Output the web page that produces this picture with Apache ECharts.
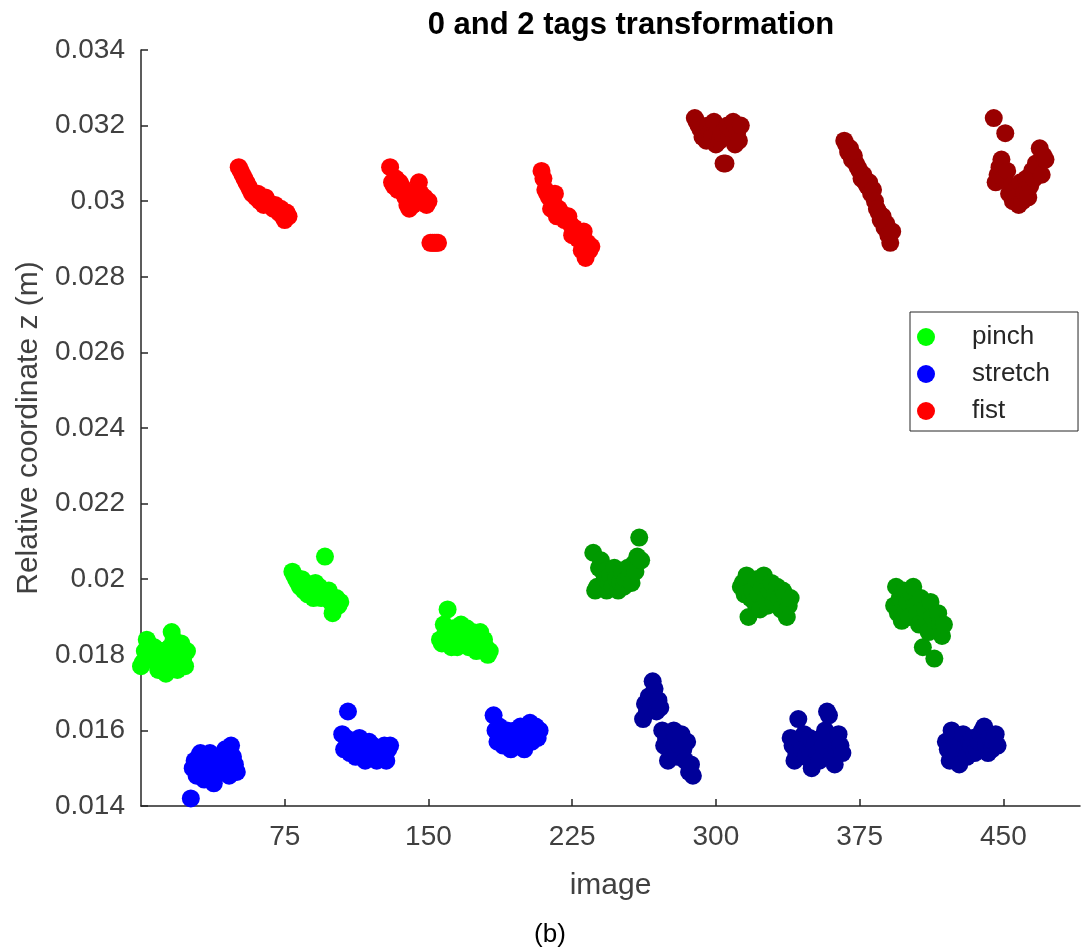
<!DOCTYPE html>
<html>
<head>
<meta charset="utf-8">
<script src="https://cdn.jsdelivr.net/npm/echarts@6/dist/echarts.min.js"></script>
<style>
  html, body { margin: 0; padding: 0; background: #fff; }
  #chart { width: 1091px; height: 949px; }
</style>
</head>
<body>
<div id="chart"></div>
<script>
// Relative z coordinate per image; each block is one recording of a gesture,
// starting at the image index given in the matching *Start array.
const pinchStart = [0, 79, 156, 236, 313, 393];
const stretchStart = [26, 105, 184, 262, 339, 420];
const fistStart = [51, 130, 209, 289, 367, 445];

const pinch1 = [0.0177,0.0178,0.0181,0.0184,0.0183,0.0180,0.0179,0.0182,0.0178,0.0176,0.0180,0.0181,0.0177,0.0175,0.0179,0.0182,0.0186,0.0184,0.0178,0.0176,0.0180,0.0183,0.0179,0.0177,0.0181];
const pinch2 = [0.0202,0.0201,0.0200,0.0199,0.0198,0.0200,0.0197,0.0199,0.0196,0.0198,0.0197,0.0195,0.0199,0.0196,0.0198,0.0195,0.0196,0.0206,0.0195,0.0197,0.0194,0.0191,0.0193,0.0195,0.0193,0.0194];
const pinch3 = [0.0184,0.0183,0.0188,0.0186,0.0192,0.0185,0.0182,0.0187,0.0184,0.0182,0.0186,0.0188,0.0183,0.0185,0.0187,0.0182,0.0184,0.0186,0.0183,0.0181,0.0185,0.0186,0.0183,0.0184,0.0182,0.0180,0.0181];
const pinch4 = [0.0207,0.0197,0.0198,0.0203,0.0205,0.0202,0.0200,0.0197,0.0199,0.0201,0.0198,0.0203,0.0200,0.0197,0.0199,0.0202,0.0198,0.0200,0.0203,0.0201,0.0199,0.0204,0.0202,0.0206,0.0211,0.0205];
const pinch5 = [0.0198,0.0199,0.0196,0.0201,0.0190,0.0195,0.0197,0.0194,0.0200,0.0196,0.0192,0.0198,0.0201,0.0195,0.0193,0.0197,0.0199,0.0194,0.0196,0.0198,0.0195,0.0192,0.0197,0.0196,0.0190,0.0193,0.0195];
const pinch6 = [0.0193,0.0198,0.0191,0.0195,0.0189,0.0197,0.0192,0.0194,0.0190,0.0196,0.0198,0.0193,0.0191,0.0188,0.0195,0.0182,0.0192,0.0189,0.0186,0.0194,0.0190,0.0179,0.0187,0.0191,0.0188,0.0185,0.0188];

const stretch1 = [0.0142,0.0150,0.0152,0.0148,0.0153,0.0154,0.0151,0.0147,0.0149,0.0152,0.0154,0.0150,0.0146,0.0148,0.0153,0.0151,0.0149,0.0152,0.0155,0.0150,0.0148,0.0156,0.0153,0.0151,0.0149];
const stretch2 = [0.0159,0.0155,0.0158,0.0165,0.0154,0.0156,0.0157,0.0153,0.0155,0.0158,0.0156,0.0154,0.0152,0.0155,0.0157,0.0153,0.0156,0.0154,0.0152,0.0155,0.0153,0.0154,0.0156,0.0152,0.0155,0.0156];
const stretch3 = [0.0164,0.0160,0.0157,0.0161,0.0158,0.0156,0.0159,0.0160,0.0157,0.0155,0.0158,0.0160,0.0156,0.0159,0.0161,0.0157,0.0155,0.0158,0.0160,0.0162,0.0157,0.0159,0.0161,0.0158,0.0160];
const stretch4 = [0.0163,0.0167,0.0165,0.0169,0.0166,0.0173,0.0171,0.0165,0.0168,0.0166,0.0160,0.0156,0.0158,0.0152,0.0155,0.0157,0.0160,0.0158,0.0153,0.0156,0.0159,0.0155,0.0152,0.0157,0.0149,0.0151,0.0148];
const stretch5 = [0.0158,0.0156,0.0152,0.0154,0.0163,0.0157,0.0155,0.0159,0.0153,0.0156,0.0158,0.0150,0.0155,0.0157,0.0154,0.0152,0.0158,0.0156,0.0160,0.0165,0.0164,0.0157,0.0153,0.0151,0.0155,0.0159,0.0156,0.0154];
const stretch6 = [0.0157,0.0155,0.0152,0.0160,0.0158,0.0156,0.0154,0.0151,0.0157,0.0159,0.0155,0.0153,0.0157,0.0156,0.0158,0.0154,0.0155,0.0157,0.0159,0.0160,0.0161,0.0156,0.0154,0.0158,0.0155,0.0157,0.0159,0.0156];

const fist1 = [0.0309,0.0308,0.0307,0.0306,0.0305,0.0304,0.0303,0.0302,0.0302,0.0301,0.0302,0.0300,0.0300,0.0299,0.0301,0.0300,0.0299,0.0299,0.0298,0.0299,0.0298,0.0297,0.0298,0.0296,0.0295,0.0297,0.0296];
const fist2 = [0.0309,0.0305,0.0304,0.0306,0.0303,0.0305,0.0304,0.0302,0.0301,0.0299,0.0298,0.0300,0.0299,0.0301,0.0303,0.0305,0.0302,0.0300,0.0301,0.0299,0.0300,0.0289,0.0289,0.0289,0.0289,0.0289];
const fist3 = [0.0308,0.0306,0.0303,0.0302,0.0301,0.0298,0.0300,0.0302,0.0296,0.0298,0.0297,0.0296,0.0295,0.0296,0.0296,0.0294,0.0291,0.0293,0.0292,0.0290,0.0291,0.0287,0.0292,0.0285,0.0289,0.0287,0.0288];
const fist4 = [0.0322,0.0321,0.0320,0.0319,0.0317,0.0318,0.0316,0.0320,0.0318,0.0317,0.0321,0.0315,0.0319,0.0316,0.0318,0.0310,0.0310,0.0320,0.0317,0.0319,0.0321,0.0315,0.0318,0.0316,0.0320];
const fist5 = [0.0316,0.0315,0.0313,0.0314,0.0311,0.0312,0.0310,0.0309,0.0308,0.0306,0.0307,0.0305,0.0304,0.0305,0.0302,0.0303,0.0300,0.0298,0.0297,0.0295,0.0296,0.0293,0.0294,0.0291,0.0289,0.0292];
const fist6 = [0.0322,0.0305,0.0307,0.0309,0.0311,0.0306,0.0318,0.0308,0.0302,0.0304,0.0300,0.0303,0.0301,0.0299,0.0305,0.0300,0.0302,0.0306,0.0301,0.0304,0.0308,0.0306,0.0310,0.0309,0.0314,0.0307,0.0312,0.0311];

const xTicks = [75, 150, 225, 300, 375, 450];

const AXIS = '#262626';
const FONT = 'Liberation Sans, Arial, sans-serif';

// turn blocks of z values into [image, z] points
function points(starts, blocks) {
  const out = [];
  blocks.forEach((vals, b) => {
    vals.forEach((z, i) => out.push([starts[b] + i, z]));
  });
  return out;
}

function scatter(name, color, data) {
  return {
    name: name,
    type: 'scatter',
    symbol: 'circle',
    symbolSize: 18,
    itemStyle: { color: color, opacity: 1 },
    emphasis: { disabled: true },
    data: data
  };
}

const series = [
  scatter('pinch', '#00ff00', points(pinchStart.slice(0, 3), [pinch1, pinch2, pinch3])),
  scatter('stretch', '#0000ff', points(stretchStart.slice(0, 3), [stretch1, stretch2, stretch3])),
  scatter('fist', '#ff0000', points(fistStart.slice(0, 3), [fist1, fist2, fist3])),
  scatter('pinch', '#009900', points(pinchStart.slice(3), [pinch4, pinch5, pinch6])),
  scatter('stretch', '#000099', points(stretchStart.slice(3), [stretch4, stretch5, stretch6])),
  scatter('fist', '#990000', points(fistStart.slice(3), [fist4, fist5, fist6]))
];

const chart = echarts.init(document.getElementById('chart'), null, { renderer: 'canvas' });
chart.setOption({
  animation: false,
  backgroundColor: '#ffffff',
  textStyle: { fontFamily: FONT },
  title: [
    {
      text: '0 and 2 tags transformation',
      left: 626,
      textAlign: 'center',
      top: 5,
      textStyle: { fontSize: 31, fontWeight: 'bold', color: '#000', fontFamily: FONT }
    },
    {
      text: '(b)',
      left: 545,
      textAlign: 'center',
      top: 917,
      textStyle: { fontSize: 26, fontWeight: 'normal', color: '#000', fontFamily: FONT }
    }
  ],
  legend: {
    data: ['pinch', 'stretch', 'fist'],
    orient: 'vertical',
    left: 910,
    top: 312,
    padding: [12, 28, 7, 7],
    itemGap: 11,
    itemWidth: 18,
    itemHeight: 18,
    icon: 'circle',
    backgroundColor: '#fff',
    borderColor: AXIS,
    borderWidth: 1,
    borderRadius: 0,
    selectedMode: false,
    textStyle: { fontSize: 26, color: '#262626', padding: [0, 0, 0, 32], lineHeight: 26, fontFamily: FONT }
  },
  grid: { left: 141, right: 11, top: 50, bottom: 143, containLabel: false },
  xAxis: {
    type: 'value',
    min: 0,
    max: 490,
    interval: 75,
    name: 'image',
    nameLocation: 'middle',
    nameGap: 65,
    nameTextStyle: { fontSize: 30, color: '#404040', fontFamily: FONT },
    axisLine: { show: true, onZero: false, lineStyle: { color: AXIS, width: 1.5 } },
    axisTick: { show: true, inside: true, length: 7, customValues: xTicks, lineStyle: { color: AXIS, width: 1.5 } },
    axisLabel: { customValues: xTicks, fontSize: 28, color: '#404040', margin: 17, fontFamily: FONT },
    splitLine: { show: false }
  },
  yAxis: {
    type: 'value',
    min: 0.014,
    max: 0.034,
    interval: 0.002,
    name: 'Relative coordinate z (m)',
    nameLocation: 'middle',
    nameGap: 95,
    nameTextStyle: { fontSize: 30, color: '#404040', fontFamily: FONT },
    axisLine: { show: true, onZero: false, lineStyle: { color: AXIS, width: 1.5 } },
    axisTick: { show: true, inside: true, length: 7, lineStyle: { color: AXIS, width: 1.5 } },
    axisLabel: {
      fontSize: 28,
      color: '#404040',
      margin: 16,
      fontFamily: FONT,
      formatter: v => String(parseFloat(v.toFixed(3)))
    },
    splitLine: { show: false }
  },
  series: series
});
</script>
</body>
</html>
